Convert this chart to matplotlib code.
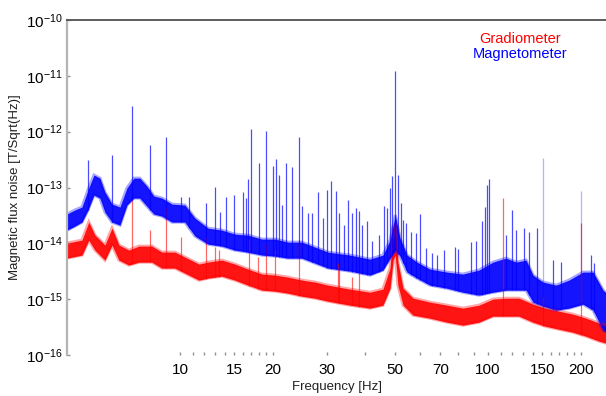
import matplotlib
matplotlib.use('Agg')
import matplotlib.pyplot as plt
from matplotlib.ticker import FixedLocator, FixedFormatter, NullFormatter, NullLocator, LogFormatterSciNotation
import numpy as np

plt.rcParams['font.family'] = ['Liberation Sans', 'DejaVu Sans']
plt.rcParams['mathtext.default'] = 'regular'

# Magnetometer noise band (Hz, T/sqrt(Hz)) - upper / lower envelope
mag_freq = [4.30, 4.56, 4.81, 5.03, 5.26, 5.50, 5.71, 6.02, 6.39, 6.73, 7.09, 7.41,
            7.81, 8.23, 8.74, 9.42, 10.38, 11.19, 12.33, 13.69, 15.09, 16.63, 18.46,
            20.35, 22.42, 24.89, 27.44, 30.24, 35.64, 41.4, 45.6, 48.1, 50.0, 51.8,
            54.6, 58.8, 64.8, 73.6, 82.9, 93.5, 103.8, 114.4, 123.3, 132.9, 140.0,
            150.9, 166.3, 183.2, 203.4, 219.3, 236.3, 241.5]
mag_hi = [3.34e-14, 3.94e-14, 4.46e-14, 8.98e-14, 1.67e-13, 1.47e-13, 8.27e-14, 5.04e-14,
          4.46e-14, 9.75e-14, 1.47e-13, 1.47e-13, 1.06e-13, 7.02e-14, 6.46e-14, 5.04e-14,
          4.84e-14, 2.83e-14, 1.87e-14, 1.72e-14, 1.46e-14, 1.40e-14, 1.19e-14, 1.19e-14,
          1.05e-14, 1.05e-14, 8.55e-15, 6.95e-15, 6.15e-15, 5.21e-15, 6.15e-15, 1.14e-14,
          3.20e-14, 1.24e-14, 6.15e-15, 4.60e-15, 3.45e-15, 3.05e-15, 2.81e-15, 3.31e-15,
          4.60e-15, 5.43e-15, 4.60e-15, 5.00e-15, 2.69e-15, 2.02e-15, 1.78e-15, 2.19e-15,
          3.05e-15, 3.05e-15, 1.45e-15, 1.30e-15]
mag_lo = [1.72e-14, 2.03e-14, 2.40e-14, 3.94e-14, 7.31e-14, 6.46e-14, 3.62e-14, 2.40e-14,
          2.12e-14, 4.84e-14, 6.46e-14, 6.46e-14, 4.64e-14, 3.34e-14, 3.07e-14, 2.40e-14,
          2.40e-14, 1.35e-14, 9.68e-15, 8.91e-15, 7.55e-15, 6.95e-15, 6.15e-15, 5.90e-15,
          5.43e-15, 5.43e-15, 4.42e-15, 3.60e-15, 3.18e-15, 2.69e-15, 3.31e-15, 5.43e-15,
          7.55e-15, 5.90e-15, 3.05e-15, 2.38e-15, 1.78e-15, 1.57e-15, 1.33e-15, 1.18e-15,
          1.33e-15, 1.45e-15, 1.45e-15, 1.45e-15, 8.83e-16, 7.49e-16, 6.35e-16, 6.90e-16,
          8.13e-16, 6.35e-16, 2.78e-16, 2.60e-16]

# Magnetometer spectral lines (Hz, peak T/sqrt(Hz))
mag_line_freq = [5.03, 6.02, 6.98, 7.99, 9.01, 10.07, 10.70, 12.14, 12.99, 13.49, 14.11,
                 14.97, 16.02, 16.38, 16.63, 17.00, 18.05, 19.02, 20.05, 20.49, 20.96,
                 21.44, 22.09, 23.10, 24.34, 24.89, 26.03, 26.83, 28.06, 29.13, 30.02,
                 30.93, 32.11, 32.84, 34.09, 35.12, 36.19, 37.28, 38.13, 38.99, 40.47,
                 42.02, 44.28, 45.96, 47.0, 48.1, 48.78, 50.0, 51.04, 52.2, 52.97, 54.18,
                 56.23, 58.4, 60.15, 62.9, 65.8, 68.3, 71.96, 78.1, 79.9, 88.1, 91.4,
                 95.6, 97.8, 99.3, 100.7, 114.4, 119.6, 123.3, 130.9, 135.9, 144.2,
                 150.9, 162.6, 172.6, 200.4, 216.0, 220.8]
mag_line_peak = [3.10e-13, 3.81e-13, 2.88e-12, 5.75e-13, 8.0e-13, 6.73e-14, 6.73e-14,
                 5.25e-14, 1.02e-13, 3.62e-14, 6.73e-14, 7.31e-14, 8.27e-14, 6.46e-14,
                 1.41e-13, 1.11e-12, 2.74e-13, 1.03e-12, 2.42e-13, 3.23e-13, 1.67e-13,
                 4.84e-14, 2.74e-13, 2.32e-13, 8.0e-13, 4.64e-14, 3.48e-14, 3.48e-14,
                 8.27e-14, 2.83e-14, 8.98e-14, 1.30e-13, 8.61e-14, 3.48e-14, 2.12e-14,
                 5.94e-14, 3.48e-14, 4.27e-14, 3.78e-14, 2.12e-14, 2.50e-14, 1.09e-14,
                 1.40e-14, 4.64e-14, 4.27e-14, 9.75e-14, 1.60e-13, 1.22e-11, 1.67e-13,
                 5.25e-14, 2.61e-14, 2.30e-14, 1.59e-14, 1.52e-14, 3.34e-14, 8.20e-15,
                 6.67e-15, 6.15e-15, 7.55e-15, 8.55e-15, 7.87e-15, 1.05e-14, 1.09e-14,
                 2.50e-14, 4.46e-14, 1.10e-13, 1.41e-13, 1.40e-14, 3.94e-14, 1.72e-14,
                 1.87e-14, 1.59e-14, 1.87e-14, 3.36e-13, 5.00e-15, 4.60e-15, 8.61e-14,
                 6.15e-15, 4.42e-15]
# faint (light lavender) lines in the magnetometer trace
mag_faint_freq = [150.9, 200.4]

# Gradiometer noise band
grad_freq = [4.30, 4.81, 5.06, 5.30, 5.71, 6.02, 6.34, 6.83, 7.36, 8.11, 8.74, 9.63,
             10.70, 11.53, 12.33, 13.69, 15.09, 16.63, 18.46, 20.35, 22.42, 24.89, 27.44,
             30.24, 35.64, 41.4, 45.6, 48.1, 49.2, 50.0, 51.0, 53.0, 57.1, 64.8, 73.6,
             82.9, 93.5, 103.8, 114.4, 126.0, 140.0, 153.2, 169.6, 188.5, 207.9, 229.4,
             241.5]
grad_hi = [1.01e-14, 1.14e-14, 2.40e-14, 1.40e-14, 9.29e-15, 1.87e-14, 9.29e-15, 7.55e-15,
           8.91e-15, 8.91e-15, 6.95e-15, 6.95e-15, 5.21e-15, 4.24e-15, 4.60e-15, 5.00e-15,
           4.24e-15, 3.45e-15, 2.81e-15, 2.69e-15, 2.48e-15, 2.19e-15, 2.02e-15, 1.78e-15,
           1.51e-15, 1.33e-15, 1.51e-15, 3.60e-15, 1.87e-14, 2.12e-14, 4.60e-15, 1.57e-15,
           1.04e-15, 8.83e-16, 7.80e-16, 6.90e-16, 7.80e-16, 1.00e-15, 1.04e-15, 1.04e-15,
           8.13e-16, 6.90e-16, 6.09e-16, 5.38e-16, 4.56e-16, 3.71e-16, 3.42e-16]
grad_lo = [5.43e-15, 6.15e-15, 1.14e-14, 7.55e-15, 5.00e-15, 9.29e-15, 5.00e-15, 4.07e-15,
           4.60e-15, 4.60e-15, 3.60e-15, 3.60e-15, 2.69e-15, 2.19e-15, 2.38e-15, 2.58e-15,
           2.19e-15, 1.78e-15, 1.45e-15, 1.39e-15, 1.28e-15, 1.13e-15, 1.04e-15, 9.2e-16,
           7.80e-16, 6.90e-16, 7.80e-16, 1.57e-15, 5.00e-15, 6.15e-15, 1.78e-15, 7.80e-16,
           5.17e-16, 4.56e-16, 3.87e-16, 3.42e-16, 3.87e-16, 4.96e-16, 4.96e-16, 4.96e-16,
           3.87e-16, 3.28e-16, 2.90e-16, 2.56e-16, 2.17e-16, 1.77e-16, 1.63e-16]

# Gradiometer spectral lines
grad_line_freq = [6.98, 7.99, 9.01, 10.07, 12.14, 12.99, 13.38, 16.8, 17.9, 19.02, 20.35,
                  24.34, 32.5, 32.84, 36.19, 38.13, 111.9, 150.9, 200.4]
grad_line_peak = [6.0e-14, 1.72e-14, 4.46e-14, 1.29e-14, 1.29e-14, 8.55e-15, 7.55e-15,
                  1.14e-14, 5.66e-15, 1.0e-14, 7.55e-15, 1.14e-14, 4.42e-15, 3.31e-15,
                  2.48e-15, 2.92e-15, 6.46e-14, 1.09e-15, 2.30e-14]

x_major = [10, 15, 20, 30, 50, 70, 100, 150, 200]
x_minor = [11, 12, 13, 14, 16, 17, 18, 19, 40, 60, 80, 90, 110, 120, 130, 140,
           160, 170, 180, 190]
y_major = [1e-16, 1e-15, 1e-14, 1e-13, 1e-12, 1e-11, 1e-10]

legend_names = ['Gradiometer', 'Magnetometer']
RED = '#ff0000'
BLUE = '#0000ff'


def line_base(f, freq, lo):
    # foot of a spectral line sits on the lower edge of the noise band
    return 10 ** np.interp(np.log10(f), np.log10(freq), np.log10(lo))


def draw_band(ax, freq, lo, hi, color):
    ax.fill_between(freq, lo, hi, color=color, lw=0, alpha=0.92)
    # soft ragged fringe on both edges
    ax.plot(freq, hi, color=color, lw=2.2, alpha=0.35, solid_joinstyle='miter')
    ax.plot(freq, lo, color=color, lw=2.2, alpha=0.35, solid_joinstyle='miter')


def main():
    fig = plt.figure(figsize=(6.06, 3.96), dpi=100)
    ax = fig.add_axes([67 / 606, 1 - 355 / 396, 539 / 606, 335 / 396])
    ax.set_xscale('log')
    ax.set_yscale('log')

    draw_band(ax, grad_freq, grad_lo, grad_hi, RED)
    ax.vlines(grad_line_freq, line_base(grad_line_freq, grad_freq, grad_lo),
              grad_line_peak, color=RED, lw=0.9, alpha=0.6)

    draw_band(ax, mag_freq, mag_lo, mag_hi, BLUE)
    alphas = [0.3 if f in mag_faint_freq else 0.7 for f in mag_line_freq]
    ax.vlines(mag_line_freq, line_base(mag_line_freq, mag_freq, mag_lo),
              mag_line_peak, colors=[(0, 0, 1, a) for a in alphas], lw=0.9)

    ax.set_xlim(4.30, 241.5)
    ax.set_ylim(1e-16, 1e-10)

    ax.xaxis.set_major_locator(FixedLocator(x_major))
    ax.xaxis.set_major_formatter(FixedFormatter([str(v) for v in x_major]))
    ax.xaxis.set_minor_locator(FixedLocator(x_minor))
    ax.xaxis.set_minor_formatter(NullFormatter())
    ax.yaxis.set_major_locator(FixedLocator(y_major))
    ax.yaxis.set_major_formatter(LogFormatterSciNotation())
    ax.yaxis.set_minor_locator(NullLocator())

    ax.tick_params(axis='both', which='both', direction='in', length=2, width=1,
                   color='#909090', labelsize=11)
    ax.tick_params(axis='x', which='both', pad=6)
    ax.tick_params(axis='y', pad=3)

    for side in ('right', 'bottom'):
        ax.spines[side].set_visible(False)
    ax.spines['left'].set_color('#b4b4b4')
    ax.spines['left'].set_linewidth(1.6)
    ax.spines['top'].set_color('#505050')
    ax.spines['top'].set_linewidth(1.3)

    fig.text(15 / 606, 1 - 187 / 396, 'Magnetic flux noise [T/Sqrt(Hz)]', rotation=90,
             ha='center', va='center', fontsize=9.5, color='#202020')
    fig.text(337 / 606, 1 - 387 / 396, 'Frequency [Hz]', ha='center', va='center',
             fontsize=9.5, color='#202020')

    fig.text(520 / 606, 1 - 39 / 396, legend_names[0], ha='center', va='center',
             fontsize=10.5, color=RED)
    fig.text(520 / 606, 1 - 54 / 396, legend_names[1], ha='center', va='center',
             fontsize=10.5, color=BLUE)

    fig.savefig('out.png', dpi=100)


if __name__ == '__main__':
    main()
